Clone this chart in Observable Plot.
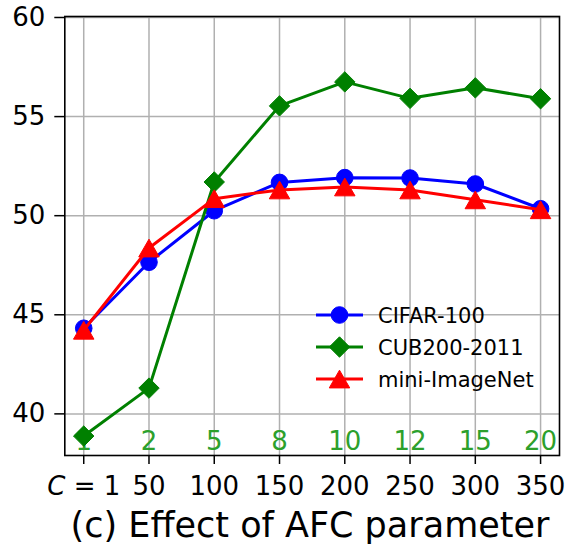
<!DOCTYPE html>
<html>
<head>
<meta charset="utf-8">
<script src="https://cdn.jsdelivr.net/npm/d3@7"></script>
<script src="https://cdn.jsdelivr.net/npm/@observablehq/plot@0.6"></script>
<style>
  html, body { margin: 0; padding: 0; background: white; overflow: hidden; }
  #title {
    width: 569px; box-sizing: border-box; padding-left: 51px; padding-top: 4.9px;
    text-align: center; font-family: "DejaVu Sans", sans-serif; font-size: 35px;
    line-height: 40px; color: #000; white-space: nowrap;
  }
</style>
</head>
<body>
<div id="chart"></div>
<div id="title">(c) Effect of AFC parameter</div>
<script>
// ---- data ----
const xValues = [0, 50, 100, 150, 200, 250, 300, 350];
const xTickLabels = ["C = 1", "50", "100", "150", "200", "250", "300", "350"];
const cLabels = ["1", "2", "5", "8", "10", "12", "15", "20"];
const yTicks = [40, 45, 50, 55, 60];
const seriesNames = ["CIFAR-100", "CUB200-2011", "mini-ImageNet"];
const cifar100 = [44.32, 47.65, 50.25, 51.68, 51.92, 51.9, 51.6, 50.35];
const cub200 = [38.88, 41.3, 51.7, 55.54, 56.75, 55.92, 56.45, 55.9];
const miniImageNet = [44.22, 48.37, 50.86, 51.3, 51.45, 51.3, 50.8, 50.3];

const colors = ["#0000ff", "#008000", "#ff0000"];
const symbols = ["circle", "diamond2", "triangle"];
const radii = [8.3, 9.2, 7.6];
const dys = [0, 0, 3];

const seriesValues = [cifar100, cub200, miniImageNet];
const tables = seriesValues.map(vals => xValues.map((x, i) => ({x, y: vals[i]})));
const cTable = xValues.map((x, i) => ({x, label: cLabels[i]}));

const seriesMarks = [];
tables.forEach((t, k) => {
  seriesMarks.push(Plot.line(t, {x: "x", y: "y", stroke: colors[k], strokeWidth: 3}));
  seriesMarks.push(Plot.dot(t, {x: "x", y: "y", symbol: symbols[k], r: radii[k],
    fill: colors[k], stroke: colors[k], strokeWidth: 1, dy: dys[k]}));
});

const chart = Plot.plot({
  width: 569,
  height: 500,
  marginTop: 16,
  marginBottom: 45,
  marginLeft: 64.3,
  marginRight: 10,
  x: {domain: [-14.5, 364.5]},
  y: {domain: [37.9, 60.05]},
  style: {fontFamily: "DejaVu Sans", fontSize: "26px", color: "black", background: "white", overflow: "visible"},
  marks: [
    Plot.gridX(xValues, {stroke: "#b0b0b0", strokeOpacity: 1, strokeWidth: 1.5}),
    Plot.gridY(yTicks, {stroke: "#b0b0b0", strokeOpacity: 1, strokeWidth: 1.5}),
    Plot.text(cTable, {x: "x", text: "label", frameAnchor: "bottom", lineAnchor: "middle",
      dy: -13.5, fill: "#2ca02c", fontSize: 26}),
    ...seriesMarks,
    Plot.frame({stroke: "black", strokeWidth: 1.6}),
    Plot.axisX({ticks: xValues, tickSize: 9, tickPadding: 12, strokeWidth: 1.5, label: null,
      tickFormat: d => xTickLabels[xValues.indexOf(d)], fontSize: 26}),
    Plot.axisY({ticks: yTicks, tickSize: 10, tickPadding: 9.5, strokeWidth: 1.5, label: null,
      tickFormat: d => String(d), fontSize: 26})
  ]
});
document.getElementById("chart").appendChild(chart);

// italic C in the first tick label
d3.select(chart).selectAll("text").filter(function() { return this.textContent === "C = 1"; })
  .each(function() {
    const t = d3.select(this);
    t.text(null);
    t.append("tspan").attr("font-style", "italic").text("C");
    t.append("tspan").text(" = 1");
  });

// legend (no frame)
const lg = d3.select(chart).append("g").attr("class", "legend");
const symMap = {circle: d3.symbolCircle, diamond2: d3.symbolDiamond2, triangle: d3.symbolTriangle};
seriesNames.forEach((name, k) => {
  const yy = 315 + k * 32;
  lg.append("line").attr("x1", 316).attr("x2", 363).attr("y1", yy).attr("y2", yy)
    .attr("stroke", colors[k]).attr("stroke-width", 3);
  lg.append("path").attr("d", d3.symbol(symMap[symbols[k]], Math.PI * radii[k] * radii[k])())
    .attr("transform", `translate(339.5,${yy + dys[k]})`)
    .attr("fill", colors[k]).attr("stroke", colors[k]).attr("stroke-width", 1);
  lg.append("text").attr("x", 378).attr("y", yy).attr("dy", "0.36em")
    .attr("text-anchor", "start")
    .attr("font-size", 21).attr("fill", "black").text(name);
});
</script>
</body>
</html>
